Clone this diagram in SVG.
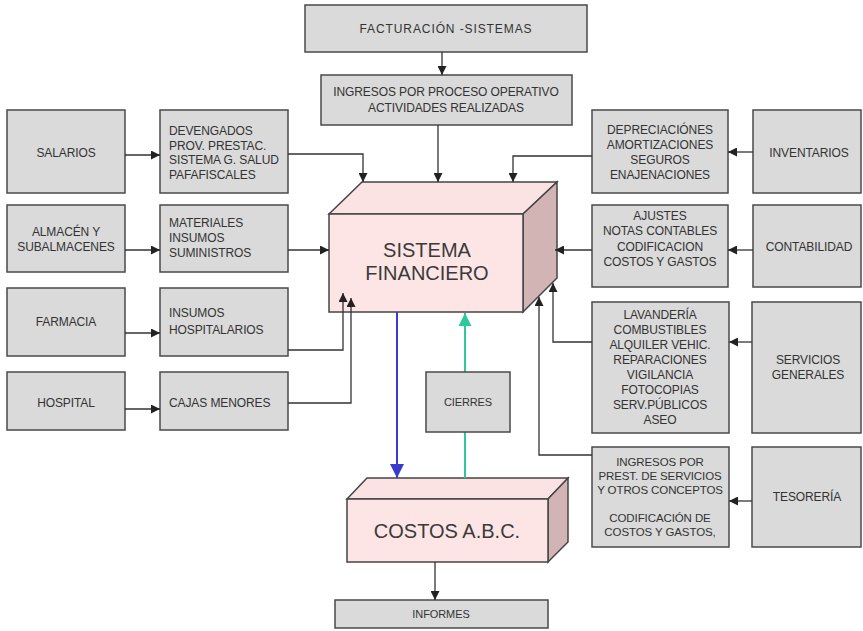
<svg xmlns="http://www.w3.org/2000/svg" width="863" height="631" viewBox="0 0 863 631">
<style>
.bx{fill:#dadada;stroke:#4a4a4a;stroke-width:1.5}
.t{font-family:"Liberation Sans",Arial,sans-serif;font-size:12px;fill:#333;letter-spacing:-0.1px}
.c{text-anchor:middle}
.big{font-family:"Liberation Sans",Arial,sans-serif;font-size:20px;fill:#3a3a3a;text-anchor:middle}
.ln{fill:none;stroke:#333;stroke-width:1.3}
.front{fill:#fde5e5;stroke:#444;stroke-width:1.5}
.top{fill:#fbe3e3;stroke:#444;stroke-width:1.5}
.side{fill:#d2b4b4;stroke:#444;stroke-width:1.5}
</style>
<defs>
<marker id="ah" viewBox="0 0 10 10" refX="10" refY="5" markerWidth="9" markerHeight="9" markerUnits="userSpaceOnUse" orient="auto"><path d="M0,0 L10,5 L0,10 z" fill="#222"/></marker>
<marker id="ahb" viewBox="0 0 10 10" refX="10" refY="5" markerWidth="14" markerHeight="14" markerUnits="userSpaceOnUse" orient="auto"><path d="M0,0 L10,5 L0,10 z" fill="#3a3acc"/></marker>
<marker id="aht" viewBox="0 0 10 10" refX="10" refY="5" markerWidth="14" markerHeight="13" markerUnits="userSpaceOnUse" orient="auto"><path d="M0,0 L10,5 L0,10 z" fill="#2fc79e"/></marker>
</defs>
<rect width="863" height="631" fill="#fff"/>

<g id="facturacion"><rect class="bx" x="305" y="5" width="282" height="47"/><text class="t c" x="446" y="33" style="letter-spacing:0.9px">FACTURACIÓN -SISTEMAS</text></g>
<g id="ingresos-proceso"><rect class="bx" x="321" y="75" width="251" height="50"/><text class="t c" x="446" y="96">INGRESOS POR PROCESO OPERATIVO</text><text class="t c" x="446" y="112">ACTIVIDADES REALIZADAS</text></g>

<g id="salarios"><rect class="bx" x="7" y="110" width="118" height="83"/><text class="t c" x="66" y="157">SALARIOS</text></g>
<g id="devengados"><rect class="bx" x="160" y="110" width="128" height="83"/><text class="t" x="169" y="135">DEVENGADOS</text><text class="t" x="169" y="150">PROV. PRESTAC.</text><text class="t" x="169" y="164">SISTEMA G. SALUD</text><text class="t" x="169" y="179">PAFAFISCALES</text></g>
<g id="almacen"><rect class="bx" x="7" y="205" width="118" height="67"/><text class="t c" x="66" y="236">ALMACÉN Y</text><text class="t c" x="66" y="251">SUBALMACENES</text></g>
<g id="materiales"><rect class="bx" x="160" y="205" width="128" height="67"/><text class="t" x="169" y="227">MATERIALES</text><text class="t" x="169" y="242">INSUMOS</text><text class="t" x="169" y="257">SUMINISTROS</text></g>
<g id="farmacia"><rect class="bx" x="7" y="288" width="118" height="68"/><text class="t c" x="66" y="326">FARMACIA</text></g>
<g id="insumos-hosp"><rect class="bx" x="160" y="288" width="128" height="68"/><text class="t" x="169" y="317">INSUMOS</text><text class="t" x="169" y="334">HOSPITALARIOS</text></g>
<g id="hospital"><rect class="bx" x="7" y="372" width="118" height="58"/><text class="t c" x="66" y="407">HOSPITAL</text></g>
<g id="cajas"><rect class="bx" x="160" y="372" width="128" height="58"/><text class="t" x="169" y="407">CAJAS MENORES</text></g>

<g id="depreciaciones"><rect class="bx" x="592" y="110" width="136" height="83"/><text class="t c" x="660" y="134">DEPRECIACIÓNES</text><text class="t c" x="660" y="149">AMORTIZACIONES</text><text class="t c" x="660" y="164">SEGUROS</text><text class="t c" x="660" y="179">ENAJENACIONES</text></g>
<g id="inventarios"><rect class="bx" x="753" y="110" width="108" height="83"/><text class="t c" x="809" y="157">INVENTARIOS</text></g>
<g id="ajustes"><rect class="bx" x="592" y="205" width="136" height="82"/><text class="t c" x="660" y="220">AJUSTES</text><text class="t c" x="660" y="235">NOTAS CONTABLES</text><text class="t c" x="660" y="251">CODIFICACION</text><text class="t c" x="660" y="266">COSTOS Y GASTOS</text></g>
<g id="contabilidad"><rect class="bx" x="753" y="205" width="108" height="82"/><text class="t c" x="809" y="251">CONTABILIDAD</text></g>
<g id="lavanderia"><rect class="bx" x="592" y="302" width="137" height="131"/><text class="t c" x="660" y="319">LAVANDERÍA</text><text class="t c" x="660" y="334">COMBUSTIBLES</text><text class="t c" x="660" y="349">ALQUILER VEHIC.</text><text class="t c" x="660" y="364">REPARACIONES</text><text class="t c" x="660" y="379">VIGILANCIA</text><text class="t c" x="660" y="394">FOTOCOPIAS</text><text class="t c" x="660" y="409">SERV.PÚBLICOS</text><text class="t c" x="660" y="424">ASEO</text></g>
<g id="servicios"><rect class="bx" x="752" y="302" width="109" height="131"/><text class="t c" x="808" y="364">SERVICIOS</text><text class="t c" x="808" y="379">GENERALES</text></g>
<g id="ingresos-prest"><rect class="bx" x="592" y="447" width="137" height="100"/><text class="t c" x="660" y="466" style="font-size:11.5px">INGRESOS POR</text><text class="t c" x="660" y="480" style="font-size:11.5px">PREST. DE SERVICIOS</text><text class="t c" x="660" y="494" style="font-size:11.5px">Y OTROS CONCEPTOS</text><text class="t c" x="660" y="522" style="font-size:11.5px">CODIFICACIÓN DE</text><text class="t c" x="660" y="536" style="font-size:11.5px">COSTOS Y GASTOS,</text></g>
<g id="tesoreria"><rect class="bx" x="752" y="447" width="109" height="100"/><text class="t c" x="807" y="501">TESORERÍA</text></g>

<g id="sistema-financiero">
<polygon class="top" points="329,214 362,182 557,182 523,214"/>
<polygon class="side" points="523,214 557,182 557,278 523,312"/>
<rect class="front" x="329" y="214" width="194" height="98"/>
<text class="big" x="427" y="257">SISTEMA</text><text class="big" x="427" y="280">FINANCIERO</text>
</g>

<g id="costos-abc">
<polygon class="top" points="347,499 367,478 568,478 548,499"/>
<polygon class="side" points="548,499 568,478 568,542 548,562"/>
<rect class="front" x="347" y="499" width="201" height="63"/>
<text class="big" x="447" y="538">COSTOS A.B.C.</text>
</g>

<g id="informes"><rect class="bx" x="335" y="600" width="213" height="28"/><text class="t c" x="441" y="618" style="font-size:11px">INFORMES</text></g>

<g id="connectors">
<path class="ln" d="M442,52 V75" marker-end="url(#ah)"/>
<path class="ln" d="M438,125 V182" marker-end="url(#ah)"/>
<path class="ln" d="M125,155 H160" marker-end="url(#ah)"/>
<path class="ln" d="M288,154 H363 V182" marker-end="url(#ah)"/>
<path class="ln" d="M125,250 H160" marker-end="url(#ah)"/>
<path class="ln" d="M288,250 H329" marker-end="url(#ah)"/>
<path class="ln" d="M125,333 H160" marker-end="url(#ah)"/>
<path class="ln" d="M288,350 H343 V293" marker-end="url(#ah)"/>
<path class="ln" d="M125,409 H160" marker-end="url(#ah)"/>
<path class="ln" d="M288,403 H351 V298" marker-end="url(#ah)"/>
<path class="ln" d="M753,152 H728" marker-end="url(#ah)"/>
<path class="ln" d="M592,156 H513 V182" marker-end="url(#ah)"/>
<path class="ln" d="M753,250 H728" marker-end="url(#ah)"/>
<path class="ln" d="M592,250 H555" marker-end="url(#ah)"/>
<path class="ln" d="M752,342 H729" marker-end="url(#ah)"/>
<path class="ln" d="M592,342 H553 V283" marker-end="url(#ah)"/>
<path class="ln" d="M752,501 H729" marker-end="url(#ah)"/>
<path class="ln" d="M592,455 H539 V297" marker-end="url(#ah)"/>
<path d="M397,312 V478" fill="none" stroke="#3a3acc" stroke-width="2" marker-end="url(#ahb)"/>
<path d="M465,478 V313" fill="none" stroke="#2fc79e" stroke-width="2" marker-end="url(#aht)"/>
<path class="ln" d="M435,562 V600" marker-end="url(#ah)"/>
</g>

<g id="cierres"><rect class="bx" x="426" y="372" width="84" height="60"/><text class="t c" x="468" y="406" style="font-size:11px">CIERRES</text></g>
</svg>
